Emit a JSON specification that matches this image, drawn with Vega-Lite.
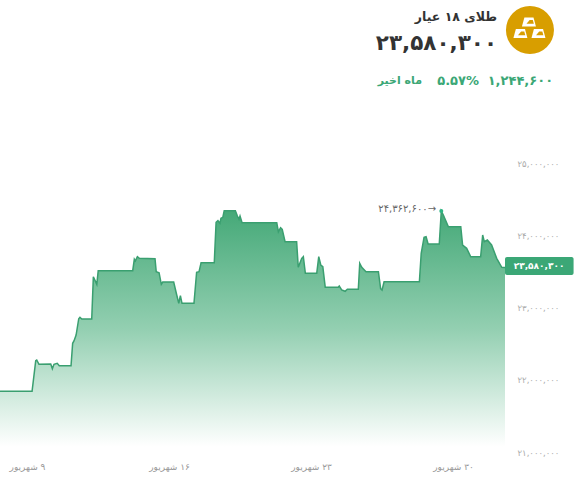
{"$schema":"https://vega.github.io/schema/vega-lite/v6.json","width":505,"height":454,"padding":{"left":0,"top":0,"right":72,"bottom":32},"autosize":{"type":"none"},"background":"white","config":{"view":{"stroke":null},"font":"DejaVu Sans"},
"encoding":{"x":{"field":"day","type":"quantitative","scale":{"domain":[7.669,32.56],"nice":false,"zero":false},"axis":{"orient":"bottom","title":null,"values":[9,16,23,30],"domain":false,"ticks":false,"grid":false,"labelColor":"#999999","labelFontSize":9,"labelPadding":8,"labelFlush":false,"labelExpr":"datum.value==9?'\u200f۹ شهریور':datum.value==16?'\u200f۱۶ شهریور':datum.value==23?'\u200f۲۳ شهریور':'\u200f۳۰ شهریور'"}},
"y":{"field":"price","type":"quantitative","scale":{"domain":[21000000,27283800],"nice":false,"zero":false},"axis":{"orient":"right","title":null,"values":[21000000,22000000,23000000,24000000,25000000],"domain":false,"ticks":false,"grid":false,"labelColor":"#aaaaaa","labelFontSize":8.5,"labelPadding":12,"labelAlign":"left","labelOffset":-2,"labelFlush":false,"labelExpr":"datum.value==21000000?'۲۱,۰۰۰,۰۰۰':datum.value==22000000?'۲۲,۰۰۰,۰۰۰':datum.value==23000000?'۲۳,۰۰۰,۰۰۰':datum.value==24000000?'۲۴,۰۰۰,۰۰۰':'۲۵,۰۰۰,۰۰۰'"}}},
"datasets":{"series":[{"day":7.67,"price":21867800},{"day":9.25,"price":21867800},{"day":9.43,"price":22291300},{"day":9.48,"price":22301000},{"day":9.59,"price":22241500},{"day":10.17,"price":22245600},{"day":10.25,"price":22180600},{"day":10.33,"price":22241500},{"day":10.49,"price":22255300},{"day":10.59,"price":22222100},{"day":11.17,"price":22222100},{"day":11.25,"price":22532100},{"day":11.32,"price":22568100},{"day":11.42,"price":22647000},{"day":11.55,"price":22872600},{"day":11.61,"price":22892000},{"day":11.7,"price":22868500},{"day":12.19,"price":22868500},{"day":12.27,"price":23454000},{"day":12.44,"price":23348800},{"day":12.51,"price":23537000},{"day":14.21,"price":23537000},{"day":14.29,"price":23694800},{"day":14.34,"price":23671300},{"day":14.44,"price":23730800},{"day":14.54,"price":23708600},{"day":15.31,"price":23703100},{"day":15.37,"price":23523200},{"day":15.51,"price":23509300},{"day":15.62,"price":23348800},{"day":15.69,"price":23380600},{"day":16.23,"price":23380600},{"day":16.38,"price":23200700},{"day":16.48,"price":23085800},{"day":16.56,"price":23191000},{"day":16.64,"price":23085800},{"day":17.23,"price":23085800},{"day":17.36,"price":23514900},{"day":17.48,"price":23523200},{"day":17.58,"price":23647700},{"day":18.23,"price":23647700},{"day":18.32,"price":24206900},{"day":18.41,"price":24229100},{"day":18.51,"price":24193100},{"day":18.56,"price":24262300},{"day":18.65,"price":24276100},{"day":18.72,"price":24367500},{"day":19.27,"price":24367500},{"day":19.37,"price":24294100},{"day":19.45,"price":24248400},{"day":19.5,"price":24294100},{"day":19.6,"price":24201400},{"day":21.31,"price":24201400},{"day":21.39,"price":24076800},{"day":21.5,"price":24132200},{"day":21.58,"price":24110000},{"day":21.72,"price":23938400},{"day":22.29,"price":23938400},{"day":22.37,"price":23584100},{"day":22.54,"price":23708600},{"day":22.62,"price":23730800},{"day":22.72,"price":23501000},{"day":23.28,"price":23501000},{"day":23.38,"price":23730800},{"day":23.48,"price":23615900},{"day":23.58,"price":23592400},{"day":23.7,"price":23307200},{"day":24.34,"price":23307200},{"day":24.39,"price":23325200},{"day":24.51,"price":23269900},{"day":24.68,"price":23251900},{"day":24.79,"price":23279600},{"day":25.33,"price":23279600},{"day":25.4,"price":23639400},{"day":25.5,"price":23584100},{"day":25.71,"price":23523200},{"day":26.32,"price":23523200},{"day":26.43,"price":23287900},{"day":26.5,"price":23269900},{"day":26.6,"price":23384800},{"day":28.34,"price":23384800},{"day":28.43,"price":23777800},{"day":28.57,"price":23999300},{"day":28.67,"price":24007600},{"day":28.77,"price":23906600},{"day":29.32,"price":23906600},{"day":29.42,"price":24362600},{"day":29.52,"price":24307900},{"day":29.77,"price":24146000},{"day":30.38,"price":24146000},{"day":30.47,"price":23892700},{"day":30.67,"price":23847000},{"day":30.87,"price":23730800},{"day":31.36,"price":23730800},{"day":31.46,"price":24031100},{"day":31.54,"price":23938400},{"day":31.69,"price":23961900},{"day":31.9,"price":23892700},{"day":32.15,"price":23708600},{"day":32.4,"price":23584100},{"day":32.56,"price":23580300}]},
"layer":[
{"data":{"name":"series"},"mark":{"type":"area","clip":false,"color":{"gradient":"linear","x1":0,"y1":0,"x2":0,"y2":1,"stops":[{"offset":0,"color":"#45a978"},{"offset":0.5,"color":"#93cfb1"},{"offset":1,"color":"#ffffff"}]}},"encoding":{"y2":{"datum":21100000}}},
{"data":{"name":"series"},"mark":{"type":"line","color":"#3a9f70","strokeWidth":1.5}},
{"data":{"values":[{"day":29.42,"price":24362600}]},"mark":{"type":"point","shape":"circle","filled":true,"size":16,"color":"#2fb583","opacity":1}},
{"data":{"values":[{"day":29.16,"price":24391000,"label":"۲۴,۳۶۲,۶۰۰→"}]},"mark":{"type":"text","align":"right","baseline":"middle","fontSize":10,"color":"#666666"},"encoding":{"text":{"field":"label"}}},
{"data":{"values":[{"day":32.56,"day2":35.94,"price":23726600,"price2":23477500}]},"mark":{"type":"rect","color":"#3ba776","cornerRadius":2},"encoding":{"x2":{"field":"day2"},"y2":{"field":"price2"}}},
{"data":{"values":[{"day":34.24,"price":23604800,"label":"۲۳,۵۸۰,۳۰۰"}]},"mark":{"type":"text","align":"center","baseline":"middle","fontSize":9,"fontWeight":"bold","color":"#ffffff"},"encoding":{"text":{"field":"label"}}},
{"data":{"values":[{"day":33.79,"price":26868500}]},"mark":{"type":"point","shape":"circle","filled":true,"size":2304,"color":"#d89e00","opacity":1}},
{"data":{"values":[{"day":33.74,"price":26979300},{"day":33.32,"price":26820100},{"day":34.21,"price":26820100}]},"mark":{"type":"point","shape":"M-0.65,-0.65 L0.65,-0.65 L1,0.65 L-1,0.65 Z","filled":true,"size":196,"color":"#ffffff","opacity":1}},
{"data":{"values":[{"day":33.74,"price":26979300},{"day":33.32,"price":26820100},{"day":34.21,"price":26820100}]},"mark":{"type":"point","shape":"M-0.35,0.25 L0.1,-0.3 L0.55,-0.3 L0.7,0.25 Z","filled":true,"size":196,"color":"#d89e00","opacity":1}},
{"data":{"values":[{"day":32.17,"price":27048500,"label":"طلای ۱۸ عیار"}]},"mark":{"type":"text","align":"right","baseline":"middle","fontSize":12.5,"fontWeight":"bold","color":"#333333"},"encoding":{"text":{"field":"label"}}},
{"data":{"values":[{"day":32.17,"price":26674800,"label":"۲۳,۵۸۰,۳۰۰"}]},"mark":{"type":"text","align":"right","baseline":"middle","fontSize":21.5,"fontWeight":"bold","color":"#333333"},"encoding":{"text":{"field":"label"}}},
{"data":{"values":[{"day":34.93,"price":26162600,"label":"۱,۲۴۴,۶۰۰"},{"day":31.28,"price":26162600,"label":"۵.۵۷%"}]},"mark":{"type":"text","align":"right","baseline":"middle","fontSize":13,"fontWeight":"bold","color":"#3ba776"},"encoding":{"text":{"field":"label"}}},
{"data":{"values":[{"day":28.47,"price":26162600,"label":"ماه اخیر"}]},"mark":{"type":"text","align":"right","baseline":"middle","fontSize":11,"fontWeight":"bold","color":"#3ba776"},"encoding":{"text":{"field":"label"}}}
]}
